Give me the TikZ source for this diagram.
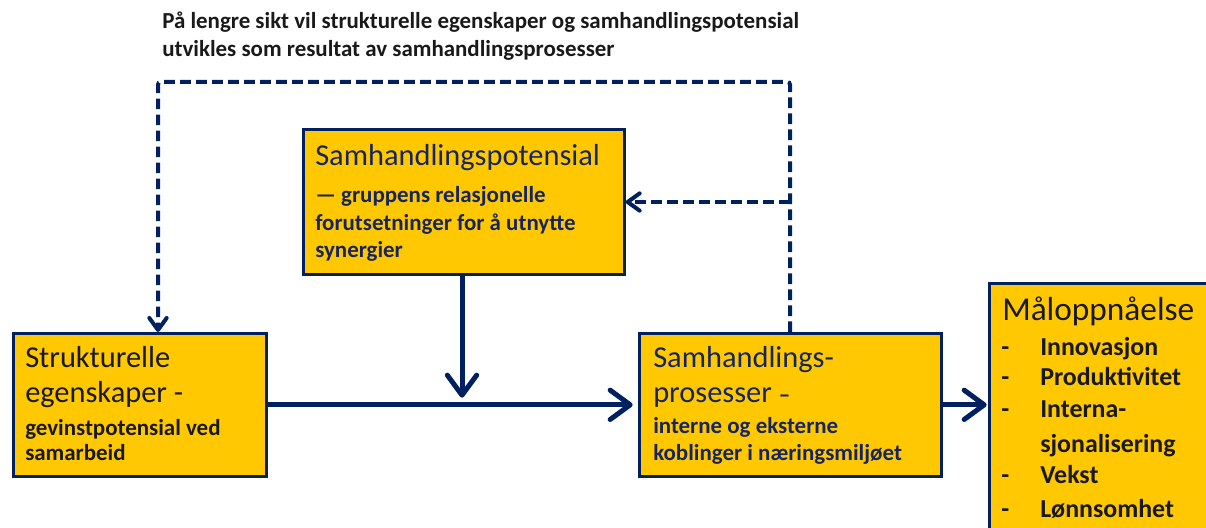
\documentclass[tikz,border=0pt]{standalone}
\usepackage{fontspec}
\setmainfont{Carlito}
\usetikzlibrary{arrows.meta}
\definecolor{navy}{RGB}{0,32,96}
\definecolor{navytext}{RGB}{22,36,96}
\definecolor{gold}{RGB}{255,200,0}
\definecolor{dark}{RGB}{25,25,25}
\tikzset{
  box/.style={draw=navy, line width=2pt, fill=gold, anchor=north west, inner sep=0pt},
  txt/.style={anchor=base west, inner sep=0pt},
  big/.style={txt, font=\fontsize{22.8}{26}\selectfont},
  sub/.style={txt, font=\bfseries\fontsize{17.2}{20}\selectfont},
  item/.style={txt, font=\bfseries\fontsize{19.4}{24}\selectfont, text=dark},
  flow/.style={draw=navy, line width=3.75pt, -{Straight Barb[round,length=15pt,width=22pt]}},
  feedback/.style={draw=navy, line width=3pt, dash pattern=on 8pt off 4pt, rounded corners=2pt, -{Straight Barb[round,length=9pt,width=13pt]}},
}
\begin{document}
\begin{tikzpicture}[x=0.75pt,y=-0.75pt]
\useasboundingbox (0,0) rectangle (1206,528);
% boxes
\node[box, minimum width=321*0.75pt, minimum height=145*0.75pt] (b1) at (302,128) {};
\node[box, minimum width=253*0.75pt, minimum height=143*0.75pt] (b2) at (12,332) {};
\node[box, minimum width=302*0.75pt, minimum height=143*0.75pt] (b3) at (638,332) {};
\node[box, minimum width=230*0.75pt, minimum height=260*0.75pt] (b4) at (988,282) {};
% top text
\node[sub, text=dark] (top1) at (162,29) {På lengre sikt vil strukturelle egenskaper og samhandlingspotensial};
\node[sub, text=dark] (top2) at (162,57) {utvikles som resultat av samhandlingsprosesser};
% box 1 text
\node[big, text=navytext] (t1a) at (315,165) {Samhandlingspotensial};
\node[sub, text=navytext] (t1b) at (315,202) {— gruppens relasjonelle};
\node[sub, text=navytext] (t1c) at (315,230) {forutsetninger for å utnytte};
\node[sub, text=navytext] (t1d) at (315,257) {synergier};
% box 2 text
\node[big, text=dark] (t2a) at (25,367) {Strukturelle};
\node[big, text=dark] (t2b) at (25,402) {egenskaper -};
\node[sub, text=dark] (t2c) at (25,435) {gevinstpotensial ved};
\node[sub, text=dark] (t2d) at (25,460) {samarbeid};
% box 3 text
\node[big, text=navytext] (t3a) at (653,367) {Samhandlings-};
\node[big, text=navytext] (t3b) at (653,402) {prosesser \fontsize{17.2}{20}\selectfont\bfseries –};
\node[sub, text=navytext] (t3c) at (653,433) {interne og eksterne};
\node[sub, text=navytext] (t3d) at (653,460) {koblinger i næringsmiljøet};
% box 4 text
\node[txt, font=\fontsize{25}{28}\selectfont, text=dark] (t4) at (1002,320) {Måloppnåelse};
\foreach \y/\s [count=\i] in {355/Innovasjon,385/Produktivitet,417/Interna-,483/Vekst,517/Lønnsomhet}{
  \node[item] (d\i) at (1001,\y) {-};
  \node[item] (i\i) at (1040,\y) {\s};
}
\node[item] (i3b) at (1040,452) {sjonalisering};
% connectors
\coordinate (j) at (462,403);
\coordinate (c1) at (790,82);
\coordinate (c2) at (158,82);
\coordinate (cm) at (790,202);
\draw[flow, shorten >=4pt] (b2.east) -- (b3.west);
\draw[flow, shorten >=4pt] (b1.south -| j) -- (j);
\draw[flow, shorten >=1pt] (b3.east) -- (b3.east -| b4.west);
\draw[feedback] (b3.north -| c1) -- (c1) -- (c2) -- (c2 |- b2.north);
\draw[feedback] (cm) -- (cm -| b1.east);
\end{tikzpicture}
\end{document}
